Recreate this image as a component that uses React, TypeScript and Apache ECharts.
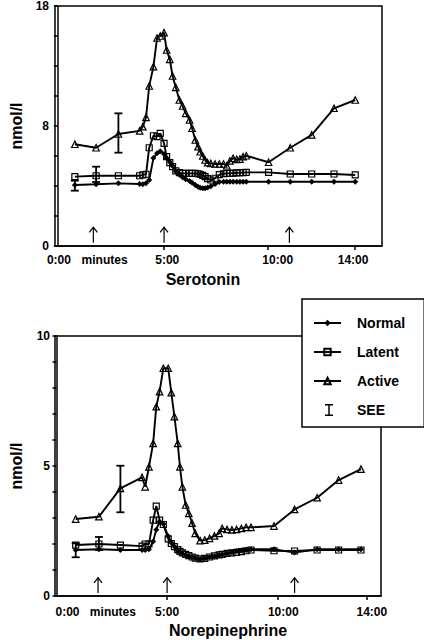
import React, { useEffect, useRef } from "react";
import * as echarts from "echarts";

// ---------- Serotonin (top) ----------
const serotoninTime = [0.8, 1.8, 2.85, 3.85, 4.0, 4.15, 4.3, 4.5, 4.67, 4.82, 5.0, 5.12, 5.27, 5.4, 5.55, 5.72, 5.87, 6.02, 6.2, 6.32, 6.47, 6.6, 6.7, 6.82, 6.93, 7.05, 7.2, 7.4, 7.6, 7.8, 7.95, 8.1, 8.25, 8.42, 8.57, 8.72, 8.87, 9.92, 10.94, 11.95, 13.0, 14.0];
const serotoninNormal = [4.58, 4.63, 4.7, 4.65, 4.63, 4.7, 4.95, 6.6, 6.95, 7.1, 6.9, 6.6, 6.3, 6.0, 5.6, 5.35, 5.15, 5.0, 4.87, 4.75, 4.58, 4.45, 4.37, 4.34, 4.33, 4.38, 4.48, 4.65, 4.8, 4.82, 4.82, 4.82, 4.82, 4.82, 4.82, 4.82, 4.82, 4.82, 4.82, 4.82, 4.82, 4.82];
const serotoninLatent = [5.2, 5.27, 5.27, 5.27, 5.33, 5.38, 7.37, 8.27, 8.2, 8.45, 7.7, 6.7, 6.25, 5.95, 5.63, 5.5, 5.45, 5.45, 5.45, 5.45, 5.45, 5.42, 5.38, 5.3, 5.2, 5.05, 4.95, 5.08, 5.35, 5.42, 5.45, 5.45, 5.47, 5.48, 5.5, 5.5, 5.52, 5.52, 5.4, 5.4, 5.4, 5.33];
const serotoninActive = [7.63, 7.37, 8.4, 8.63, 8.95, 9.65, 12.0, 13.45, 15.6, 15.75, 16.0, 14.7, 14.0, 12.75, 11.9, 10.95, 10.5, 9.95, 9.45, 8.83, 7.95, 7.45, 7.07, 6.75, 6.45, 6.25, 6.2, 6.15, 6.15, 6.15, 6.02, 6.38, 6.58, 6.5, 6.52, 6.7, 6.77, 6.28, 7.37, 8.33, 10.33, 10.95];
// SEE bars: [time, low, high]
const serotoninSEE = [
  [0.8, 4.15, 4.9],
  [1.8, 4.8, 5.95],
  [2.85, 7.0, 9.95],
];
// arrows: [time, base, tip]
const serotoninArrows = [
  [1.67, 0.25, 1.4],
  [5.0, 0.25, 1.4],
  [10.9, 0.25, 1.4],
];
const serotoninXTicks = [5, 9.9, 14];
const serotoninXLabelValues = [0.05, 2.2, 5.15, 10.35, 13.9];
const serotoninXLabels = ["0:00", "minutes", "5:00", "10:00", "14:00"];
const serotoninYLabelValues = [0, 9, 18];
const serotoninYLabels = ["0", "8", "18"];

// ---------- Norepinephrine (bottom) ----------
const norepiTime = [0.87, 1.92, 2.89, 3.87, 4.01, 4.18, 4.37, 4.51, 4.66, 4.83, 5.05, 5.19, 5.33, 5.48, 5.58, 5.69, 5.84, 5.98, 6.13, 6.27, 6.49, 6.7, 6.92, 7.14, 7.35, 7.49, 7.71, 7.93, 8.14, 8.36, 8.57, 8.79, 9.83, 10.76, 11.78, 12.75, 13.76];
const norepiNormal = [1.77, 1.8, 1.77, 1.77, 1.77, 1.8, 2.1, 2.55, 2.86, 2.77, 2.3, 2.05, 1.9, 1.74, 1.68, 1.62, 1.58, 1.53, 1.49, 1.45, 1.41, 1.45, 1.5, 1.53, 1.57, 1.6, 1.64, 1.68, 1.73, 1.75, 1.77, 1.8, 1.8, 1.67, 1.8, 1.8, 1.8];
const norepiLatent = [1.96, 2.0, 1.96, 1.92, 2.0, 2.0, 2.92, 3.46, 2.92, 2.75, 2.2, 2.02, 1.9, 1.78, 1.72, 1.66, 1.6, 1.55, 1.5, 1.46, 1.43, 1.45, 1.5, 1.54, 1.58, 1.6, 1.64, 1.66, 1.68, 1.71, 1.74, 1.77, 1.74, 1.73, 1.77, 1.77, 1.77];
const norepiActive = [2.96, 3.05, 4.14, 4.56, 4.2, 4.97, 5.87, 7.28, 7.86, 8.76, 8.76, 7.82, 6.9, 5.87, 4.97, 4.2, 3.5, 3.18, 2.8, 2.41, 2.13, 2.15, 2.22, 2.31, 2.41, 2.6, 2.56, 2.54, 2.56, 2.6, 2.64, 2.64, 2.69, 3.33, 3.78, 4.46, 4.88];
const norepiSEE = [
  [0.87, 1.49, 2.03],
  [1.92, 1.77, 2.27],
  [2.89, 3.22, 5.01],
];
const norepiArrows = [
  [1.88, 0.12, 0.7],
  [5.0, 0.12, 0.7],
  [10.76, 0.12, 0.7],
];
const norepiXTicks = [5, 10, 14];
const norepiXLabelValues = [0.5, 2.55, 5.0, 10.25, 14.25];
const norepiXLabels = ["0:00", "minutes", "5:00", "10:00", "14:00"];
const norepiYLabelValues = [0, 5, 10];
const norepiYLabels = ["0", "5", "10"];

const seriesNames = ["Normal", "Latent", "Active"];
const seeName = "SEE";
const titles = ["Serotonin", "Norepinephrine"];
const yName = "nmol/l";

const FONT = '"Liberation Sans", Arial, Helvetica, sans-serif';
const BLACK = "#000";
const SEE_ICON = "path://M0,0H8V1.5H4.75V10.5H8V12H0V10.5H3.25V1.5H0Z";

const zip = (xs: number[], ys: number[]) => xs.map((x, i) => [x, ys[i]]);
const labelFmt = (vals: number[], labels: string[]) => (v: number) => {
  for (let i = 0; i < vals.length; i++) {
    if (Math.abs(vals[i] - v) < 1e-6) return labels[i];
  }
  return "";
};

const errorBarRender = (params: any, api: any) => {
  const x = api.value(0);
  const top = api.coord([x, api.value(2)]);
  const bot = api.coord([x, api.value(1)]);
  const w = 4;
  const st = { stroke: BLACK, lineWidth: 1.8 };
  return {
    type: "group",
    children: [
      { type: "line", shape: { x1: top[0], y1: top[1], x2: bot[0], y2: bot[1] }, style: st },
      { type: "line", shape: { x1: top[0] - w, y1: top[1], x2: top[0] + w, y2: top[1] }, style: st },
      { type: "line", shape: { x1: bot[0] - w, y1: bot[1], x2: bot[0] + w, y2: bot[1] }, style: st },
    ],
  };
};

const arrowRender = (params: any, api: any) => {
  const x = api.value(0);
  const base = api.coord([x, api.value(1)]);
  const tip = api.coord([x, api.value(2)]);
  const st = { stroke: BLACK, lineWidth: 1.2, fill: "none" };
  return {
    type: "group",
    children: [
      { type: "line", shape: { x1: base[0], y1: base[1], x2: tip[0], y2: tip[1] }, style: st },
      {
        type: "polyline",
        shape: { points: [[tip[0] - 4, tip[1] + 5], [tip[0], tip[1]], [tip[0] + 4, tip[1] + 5]] },
        style: st,
      },
    ],
  };
};

const tickLabelStyle = { color: BLACK, fontFamily: FONT, fontWeight: "bold", fontSize: 12 };

function makeSeries(idx: number, time: number[], normal: number[], latent: number[], active: number[], see: number[][], arrows: number[][]) {
  const common = { xAxisIndex: idx, yAxisIndex: idx, type: "line", lineStyle: { color: BLACK, width: 1.9 }, z: 3 };
  const hollow = { color: "rgba(255,255,255,0)", borderColor: BLACK, borderWidth: 1.2 };
  return [
    { ...common, name: seriesNames[0], data: zip(time, normal), symbol: "diamond", symbolSize: 6, itemStyle: { color: BLACK } },
    { ...common, name: seriesNames[1], data: zip(time, latent), symbol: "rect", symbolSize: 6, itemStyle: hollow },
    { ...common, name: seriesNames[2], data: zip(time, active), symbol: "triangle", symbolSize: 6.5, itemStyle: hollow },
    { type: "custom", name: seeName, xAxisIndex: idx, yAxisIndex: idx, data: see, encode: { x: 0, y: [1, 2] }, renderItem: errorBarRender, itemStyle: { color: BLACK }, z: 4 },
    { type: "custom", name: "arrows", xAxisIndex: idx, yAxisIndex: idx, data: arrows, encode: { x: 0, y: [1, 2] }, renderItem: arrowRender, itemStyle: { color: BLACK }, z: 4 },
  ];
}

function makeXAxis(idx: number, min: number, max: number, ticks: number[], labelVals: number[], labels: string[], margin: number) {
  return {
    gridIndex: idx,
    type: "value",
    min,
    max,
    axisLine: { show: true, onZero: false, lineStyle: { color: BLACK, width: 1.5 } },
    axisTick: { show: true, customValues: ticks, length: 4, lineStyle: { color: BLACK, width: 1.5 } },
    axisLabel: { ...tickLabelStyle, customValues: labelVals, formatter: labelFmt(labelVals, labels), margin, hideOverlap: false },
    splitLine: { show: false },
  };
}

function makeYAxis(idx: number, max: number, interval: number, labelVals: number[], labels: string[], margin: number) {
  return {
    gridIndex: idx,
    type: "value",
    min: 0,
    max,
    interval,
    name: yName,
    nameLocation: "middle",
    nameRotate: 90,
    nameGap: 31,
    nameTextStyle: { color: BLACK, fontFamily: FONT, fontWeight: "bold", fontSize: 16 },
    axisLine: { show: true, lineStyle: { color: BLACK, width: 1.5 } },
    axisTick: { show: true, length: 4, lineStyle: { color: BLACK, width: 1.5 } },
    axisLabel: { ...tickLabelStyle, customValues: labelVals, formatter: labelFmt(labelVals, labels), margin },
    splitLine: { show: false },
  };
}

export default function App() {
  const ref = useRef<HTMLDivElement>(null);
  useEffect(() => {
    if (!ref.current) return;
    const chart = echarts.init(ref.current, undefined, { renderer: "svg" });
    const option: any = {
      animation: false,
      backgroundColor: "#fff",
      grid: [
        { left: 40, top: 6, width: 342, height: 240, show: true, borderColor: BLACK, borderWidth: 1.5, backgroundColor: "transparent" },
        { left: 40, top: 336, width: 341, height: 260, show: true, borderColor: BLACK, borderWidth: 1.5, backgroundColor: "transparent" },
      ],
      xAxis: [
        makeXAxis(0, -0.135, 15.26, serotoninXTicks, serotoninXLabelValues, serotoninXLabels, 8),
        makeXAxis(1, -0.065, 14.665, norepiXTicks, norepiXLabelValues, norepiXLabels, 10),
      ],
      yAxis: [
        makeYAxis(0, 18, 2.25, serotoninYLabelValues, serotoninYLabels, 6),
        makeYAxis(1, 10, 1, norepiYLabelValues, norepiYLabels, 5),
      ],
      legend: [
        {
          orient: "vertical",
          left: 302,
          top: 299,
          selectedMode: false,
          padding: [17, 19, 10, 11],
          itemGap: 15,
          itemWidth: 27,
          itemHeight: 8,
          backgroundColor: "#fff",
          borderColor: BLACK,
          borderWidth: 1.5,
          borderRadius: 0,
          z: 10,
          textStyle: { color: BLACK, fontFamily: FONT, fontWeight: "bold", fontSize: 14, padding: [0, 0, 0, 11] },
          data: [
            { name: seriesNames[0] },
            { name: seriesNames[1] },
            { name: seriesNames[2] },
            { name: seeName, icon: "none" },
          ],
        },
        {
          orient: "vertical",
          left: 325,
          top: 404,
          selectedMode: false,
          padding: 0,
          itemWidth: 8,
          itemHeight: 12,
          z: 11,
          formatter: () => "",
          textStyle: { color: BLACK, fontFamily: FONT, fontWeight: "bold", fontSize: 14 },
          data: [{ name: seeName, icon: SEE_ICON, itemStyle: { color: BLACK, borderWidth: 0 } }],
        },
      ],
      graphic: [
        { type: "text", x: 203, y: 279, style: { text: titles[0], fill: BLACK, font: `bold 16px ${FONT}`, textAlign: "center", textVerticalAlign: "middle" } },
        { type: "text", x: 228, y: 630, style: { text: titles[1], fill: BLACK, font: `bold 16px ${FONT}`, textAlign: "center", textVerticalAlign: "middle" } },
      ],
      series: [
        ...makeSeries(0, serotoninTime, serotoninNormal, serotoninLatent, serotoninActive, serotoninSEE, serotoninArrows),
        ...makeSeries(1, norepiTime, norepiNormal, norepiLatent, norepiActive, norepiSEE, norepiArrows),
      ],
    };
    chart.setOption(option);
    return () => chart.dispose();
  }, []);
  return <div ref={ref} style={{ position: "fixed", left: 0, top: 0, width: 424, height: 640, background: "#fff" }} />;
}
